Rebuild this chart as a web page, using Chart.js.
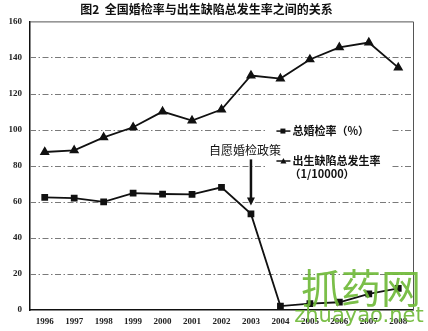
<!DOCTYPE html>
<html>
<head>
<meta charset="utf-8">
<script src="https://cdn.jsdelivr.net/npm/chart.js@4.4.1/dist/chart.umd.min.js"></script>
<style>
  html, body { margin: 0; padding: 0; background: #fff; }
  #wrap { width: 428px; height: 331px; }
</style>
</head>
<body>
<div id="wrap"><canvas id="chart"></canvas></div>
<script>
// data
const years = ['1996', '1997', '1998', '1999', '2000', '2001', '2002', '2003', '2004', '2005', '2006', '2007', '2008'];
const marriageCheckRate = [62.4, 62, 60, 64.8, 64.3, 64.1, 68, 53.3, 2.2, 3.5, 4.3, 9, 12];
const birthDefectRate = [87.6, 88.5, 95.7, 101.3, 110, 105, 111.1, 130, 128.3, 138.9, 145.6, 148.3, 134.4];
const seriesLabels = ['总婚检率（%）', '出生缺陷总发生率', '（1/10000）'];
const titleText = '图2  全国婚检率与出生缺陷总发生率之间的关系';
const policyLabel = '自愿婚检政策';
const policyYear = '2003';

const tickFont = { family: 'Liberation Serif', size: 9, weight: 'bold' };

// dash-dot grid lines and the frame round the plot area
const gridPlugin = {
    id: 'dashGrid',
    beforeDatasetsDraw(chart) {
        const { ctx, chartArea: a } = chart;
        const y = chart.scales.y;
        ctx.save();
        ctx.strokeStyle = '#7a7a7a';
        ctx.lineWidth = 1;
        ctx.setLineDash([6, 2.5, 1.5, 2.5]);
        y.ticks.forEach(t => {
            if (t.value <= y.min || t.value >= y.max) return;
            const py = Math.round(y.getPixelForValue(t.value)) + 0.5;
            ctx.beginPath();
            ctx.moveTo(a.left, py);
            ctx.lineTo(a.right, py);
            ctx.stroke();
        });
        ctx.setLineDash([]);
        ctx.strokeStyle = '#555';
        ctx.beginPath();
        ctx.moveTo(a.left, a.top + 0.5);
        ctx.lineTo(a.right + 0.5, a.top + 0.5);
        ctx.lineTo(a.right + 0.5, a.bottom);
        ctx.stroke();
        ctx.restore();
    }
};

// legend inside the plot, on a white patch that hides the grid
const legendPlugin = {
    id: 'innerLegend',
    afterDraw(chart) {
        const { ctx } = chart;
        const x = chart.scales.x, y = chart.scales.y;
        const lx = x.getPixelForValue(8) - 4;
        const rows = [y.getPixelForValue(99.2), y.getPixelForValue(82.6)];
        ctx.save();
        ctx.fillStyle = '#fff';
        ctx.fillRect(lx - 11, rows[0] - 11, 126, 62);
        ctx.strokeStyle = '#111';
        ctx.fillStyle = '#111';
        ctx.lineWidth = 1.5;
        rows.forEach((ry, i) => {
            ctx.beginPath();
            ctx.moveTo(lx, ry);
            ctx.lineTo(lx + 14, ry);
            ctx.stroke();
            ctx.beginPath();
            if (i === 0) {
                ctx.rect(lx + 4, ry - 2.5, 5, 5);
            } else {
                ctx.moveTo(lx + 7, ry - 3);
                ctx.lineTo(lx + 10, ry + 2.5);
                ctx.lineTo(lx + 4, ry + 2.5);
                ctx.closePath();
            }
            ctx.fill();
        });
        ctx.font = 'bold 11px "Noto Sans CJK SC"';
        ctx.textBaseline = 'middle';
        ctx.fillText(seriesLabels[0], lx + 16, rows[0]);
        ctx.fillText(seriesLabels[1], lx + 16, rows[1]);
        ctx.fillText(seriesLabels[2], lx + 13, rows[1] + 13);
        ctx.restore();
    }
};

// policy note with arrow
const notePlugin = {
    id: 'policyNote',
    afterDraw(chart) {
        const { ctx } = chart;
        const x = chart.scales.x, y = chart.scales.y;
        const px = x.getPixelForValue(years.indexOf(policyYear));
        const top = y.getPixelForValue(83.5);
        const bottom = y.getPixelForValue(58);
        ctx.save();
        ctx.fillStyle = '#111';
        ctx.strokeStyle = '#111';
        ctx.font = '12px "Noto Sans CJK SC"';
        ctx.textAlign = 'center';
        ctx.textBaseline = 'middle';
        ctx.fillText(policyLabel, px - 6, y.getPixelForValue(88.5));
        ctx.lineWidth = 2.5;
        ctx.beginPath();
        ctx.moveTo(px, top);
        ctx.lineTo(px, bottom - 6);
        ctx.stroke();
        ctx.beginPath();
        ctx.moveTo(px - 4, bottom - 8);
        ctx.lineTo(px + 4, bottom - 8);
        ctx.lineTo(px, bottom);
        ctx.closePath();
        ctx.fill();
        ctx.restore();
    }
};

// site watermark over the lower right corner
const watermarkPlugin = {
    id: 'watermark',
    afterDraw(chart) {
        const { ctx } = chart;
        ctx.save();
        ctx.fillStyle = 'rgba(112, 186, 58, 0.92)';
        ctx.textAlign = 'center';
        ctx.textBaseline = 'alphabetic';
        ctx.font = '40px "Noto Sans CJK SC"';
        ctx.fillText('抓药网', 361, 303);
        ctx.font = '21px "DejaVu Sans"';
        ctx.fillText('zhuayao.net', 359, 322);
        ctx.restore();
    }
};

new Chart(document.getElementById('chart'), {
    type: 'line',
    data: {
        labels: years,
        datasets: [
            {
                label: seriesLabels[0],
                data: marriageCheckRate,
                borderColor: '#111',
                backgroundColor: '#111',
                borderWidth: 1.8,
                pointStyle: 'rect',
                pointRadius: 3.5,
                tension: 0
            },
            {
                label: seriesLabels[1],
                data: birthDefectRate,
                borderColor: '#111',
                backgroundColor: '#111',
                borderWidth: 1.8,
                pointStyle: 'triangle',
                pointRadius: 4,
                tension: 0
            }
        ]
    },
    options: {
        responsive: true,
        maintainAspectRatio: false,
        animation: false,
        layout: { padding: { left: 0, right: 15, top: 0, bottom: 0 } },
        plugins: {
            legend: { display: false },
            tooltip: { enabled: false },
            title: {
                display: true,
                text: titleText,
                color: '#111',
                font: { family: 'Noto Sans CJK SC', size: 12, weight: 'bold' },
                padding: { top: 2, bottom: 5 }
            }
        },
        scales: {
            x: {
                offset: true,
                grid: { display: false, drawTicks: false },
                border: { color: '#111', width: 1.5 },
                ticks: { color: '#222', font: tickFont, padding: 6, maxRotation: 0, autoSkip: false },
                afterFit(scale) { scale.height = 21; }
            },
            y: {
                min: 0,
                max: 160,
                ticks: { stepSize: 20, color: '#222', font: tickFont, padding: 8 },
                grid: { display: false, drawTicks: false },
                border: { color: '#111', width: 1.5 },
                afterFit(scale) { scale.width = 30; }
            }
        }
    },
    plugins: [gridPlugin, legendPlugin, notePlugin, watermarkPlugin]
});
</script>
</body>
</html>
